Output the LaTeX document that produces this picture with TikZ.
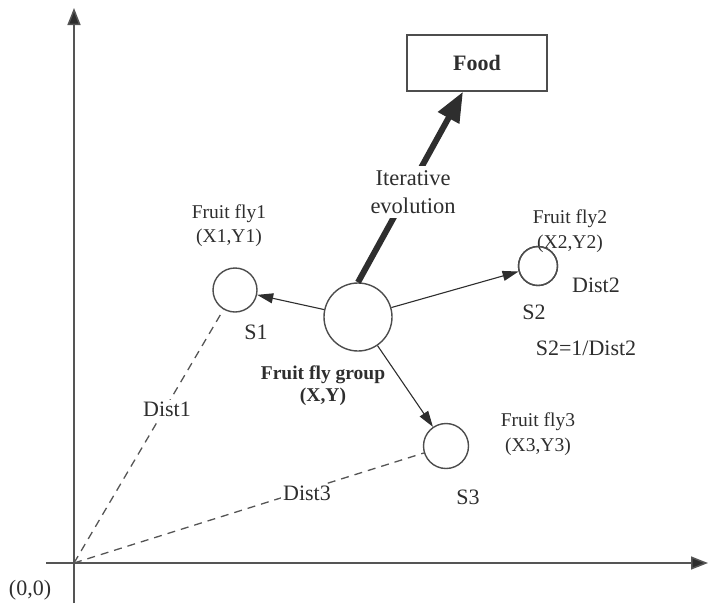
\documentclass[tikz,border=0pt]{standalone}
\usepackage{fontspec}
\setmainfont{Liberation Serif}
\usetikzlibrary{arrows.meta}
\definecolor{ink}{HTML}{2E2E2E}
\definecolor{axisgray}{HTML}{555555}
\tikzset{
  axisline/.style={draw=axisgray, line width=1.5pt, -{Triangle[length=17pt,width=13pt,fill=ink]}},
  fly/.style={circle, draw=ink!85, line width=1.4pt, fill=white, inner sep=0pt},
  pointer/.style={draw=ink, line width=1.1pt, -{Triangle[length=16pt,width=10pt]}},
  bigarrow/.style={draw=ink, line width=6pt, -{Triangle[length=30pt,width=23pt]}},
  distline/.style={draw=axisgray, line width=1.3pt, dash pattern=on 8pt off 6pt},
  lbl/.style={text=ink, inner sep=0pt, anchor=base, font=\fontsize{19.5}{22}\selectfont},
  blbl/.style={lbl, font=\fontsize{19.5}{22}\selectfont\bfseries},
  biglbl/.style={lbl, font=\fontsize{22}{26}\selectfont},
  foodbox/.style={draw=ink!85, line width=1.4pt, fill=white, minimum width=140pt, minimum height=56pt, text=ink, font=\fontsize{22}{26}\selectfont\bfseries}
}
\begin{document}
\begin{tikzpicture}[x=1pt, y=-1pt]
  \useasboundingbox (0,0) rectangle (709,603);

  % coordinate axes
  \coordinate (O) at (74,563);
  \coordinate (ybot) at (74,603);
  \coordinate (ytop) at (74,8);
  \coordinate (xleft) at (46,563);
  \coordinate (xright) at (708,563);
  \draw[axisline] (ybot) -- (ytop);
  \draw[axisline] (xleft) -- (xright);
  \node[biglbl] (origin) at (30,595) {(0,0)};

  % food source
  \node[foodbox] (food) at (477,63) {Food};

  % swarm centre and the three flies
  \node[fly, minimum size=68pt] (group) at (358,317) {};
  \node[fly, minimum size=44pt] (fly1) at (235,290) {};
  \node[fly, minimum size=39pt] (fly2) at (538,266) {};
  \node[fly, minimum size=45pt] (fly3) at (446,446) {};

  % distances to the origin
  \draw[distline] (O) -- (fly1);
  \draw[distline] (O) -- (fly3);
  \node[biglbl, fill=white, inner sep=2pt] (dist1) at (167,416.7) {Dist1};
  \node[biglbl, fill=white, inner sep=2pt] (dist3) at (307,500.7) {Dist3};

  % random search directions
  \draw[pointer] (group) -- (fly1);
  \draw[pointer] (group) -- (fly2);
  \draw[pointer] (group) -- (fly3);

  % evolution towards the food
  \draw[bigarrow] (group.north) -- ([xshift=-14pt]food.south);
  \node[text=ink, fill=white, inner sep=4pt, align=center,
        font=\fontsize{22.5}{28}\selectfont] (iter) at (413,192) {Iterative\\evolution};

  % labels
  \node[lbl] (f1a) at (229,218.5) {Fruit fly1};
  \node[lbl] (f1b) at (229,242) {(X1,Y1)};
  \node[biglbl] (s1) at (256,339) {S1};

  \node[blbl] (ga) at (323,379) {Fruit fly group};
  \node[blbl] (gb) at (323,401) {(X,Y)};

  \node[lbl] (f2a) at (570,223.3) {Fruit fly2};
  \node[lbl] (f2b) at (570,248) {(X2,Y2)};
  \node[biglbl] (dist2) at (596,292.7) {Dist2};
  \node[biglbl] (s2) at (534,319) {S2};
  \node[biglbl] (s2eq) at (586,355.7) {S2=1/Dist2};

  \node[lbl] (f3a) at (538,426.7) {Fruit fly3};
  \node[lbl] (f3b) at (538,451.7) {(X3,Y3)};
  \node[biglbl] (s3) at (468,504) {S3};

  % circle outline stays above the overlapping coordinate label
  \draw[draw=ink!85, line width=1.4pt] (fly2.center) circle[radius=19.5pt];
\end{tikzpicture}
\end{document}
